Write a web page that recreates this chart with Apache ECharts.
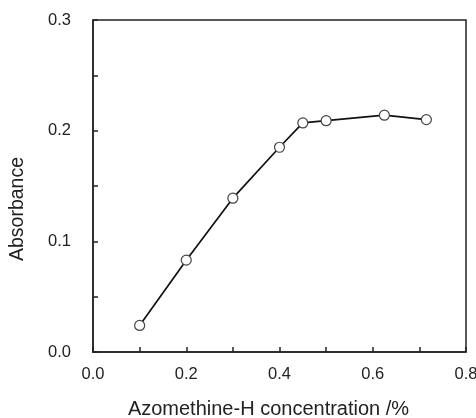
<!DOCTYPE html>
<html>
<head>
	<meta charset="UTF-8">
	<title>Absorbance vs Azomethine-H</title>
	<script src="https://cdn.jsdelivr.net/npm/echarts@6/dist/echarts.min.js"></script>
	<style>
		html, body { margin: 0; padding: 0; background: #fff; }
		#graph { width: 476px; height: 418px; }
	</style>
</head>
<body>
	<div id="graph"></div>
	<script>
		// concentration (%) and measured absorbance
		var concentration = [0.1, 0.2, 0.3, 0.4, 0.45, 0.5, 0.625, 0.715];
		var absorbance = [0.024, 0.083, 0.139, 0.185, 0.207, 0.209, 0.214, 0.210];
		var xTicks = [0, 0.2, 0.4, 0.6, 0.8];
		var yTicks = [0, 0.1, 0.2, 0.3];

		var points = concentration.map(function (c, i) { return [c, absorbance[i]]; });
		var font = 'Liberation Sans, Arial, sans-serif';
		var ink = '#222';

		var chart = echarts.init(document.getElementById('graph'), null, { renderer: 'canvas' });
		chart.setOption({
			animation: false,
			backgroundColor: '#fff',
			grid: {
				left: 93, right: 10, top: 20, bottom: 66,
				outerBoundsMode: 'none', containLabel: false,
				show: true, borderColor: ink, borderWidth: 1.5
			},
			xAxis: {
				type: 'value',
				min: xTicks[0], max: xTicks[xTicks.length - 1], interval: 0.2,
				name: 'Azomethine-H concentration /%',
				nameLocation: 'middle', nameGap: 47,
				nameTextStyle: { fontFamily: font, fontSize: 20, color: ink, padding: [0, 22, 0, 0] },
				axisLine: { show: true, lineStyle: { color: ink, width: 1.5 } },
				axisTick: { show: true, inside: true, length: 5, lineStyle: { color: ink, width: 1.5 } },
				minorTick: { show: true, splitNumber: 2, length: 5, lineStyle: { color: ink, width: 1.5 } },
				splitLine: { show: false },
				axisLabel: {
					fontFamily: font, fontSize: 16.5, color: ink, margin: 14,
					formatter: function (v) { return v.toFixed(1); }
				}
			},
			yAxis: {
				type: 'value',
				min: yTicks[0], max: yTicks[yTicks.length - 1], interval: 0.1,
				name: 'Absorbance',
				nameLocation: 'middle', nameGap: 65,
				nameTextStyle: { fontFamily: font, fontSize: 19.5, color: ink, padding: [0, 46, 0, 0] },
				axisLine: { show: true, lineStyle: { color: ink, width: 1.5 } },
				axisTick: { show: true, inside: true, length: 5, lineStyle: { color: ink, width: 1.5 } },
				minorTick: { show: true, splitNumber: 2, length: 5, lineStyle: { color: ink, width: 1.5 } },
				splitLine: { show: false },
				axisLabel: {
					fontFamily: font, fontSize: 16.5, color: ink, margin: 22,
					formatter: function (v) { return v.toFixed(1); }
				}
			},
			series: [{
				type: 'line',
				data: points,
				symbol: 'circle',
				symbolSize: 10,
				lineStyle: { color: '#111', width: 1.7 },
				itemStyle: { color: '#fff', borderColor: '#444', borderWidth: 1.2 }
			}]
		});
	</script>
</body>
</html>
